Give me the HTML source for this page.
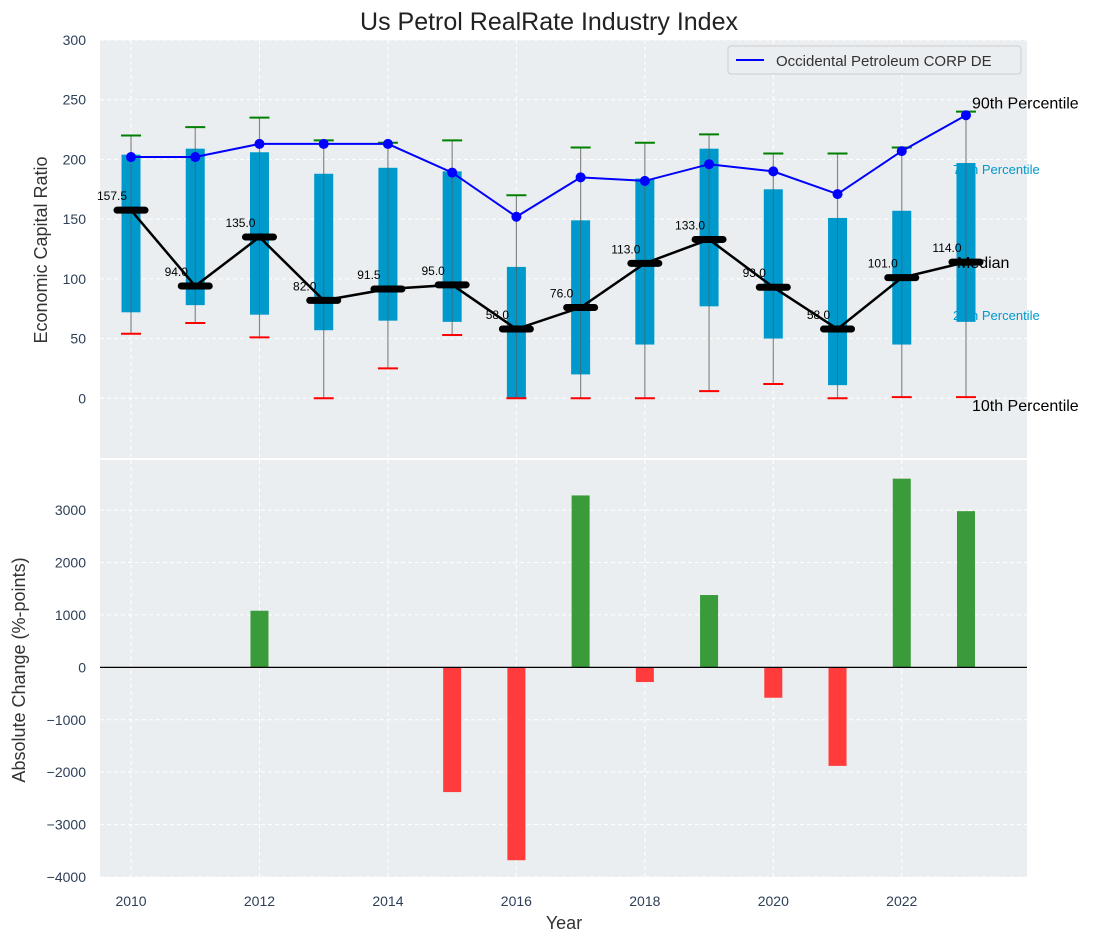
<!DOCTYPE html>
<html><head><meta charset="utf-8"><style>
body{margin:0;background:#fff;}
svg{font-family:"Liberation Sans","DejaVu Sans",sans-serif;}
</style></head><body>
<svg id="c" width="1107" height="942" viewBox="0 0 1107 942" xmlns="http://www.w3.org/2000/svg">
<text x="549" y="30" font-size="25" fill="#222" text-anchor="middle">Us Petrol RealRate Industry Index</text>
<rect x="100" y="40" width="927" height="418" fill="#eaeef0"/>
<rect x="100" y="460" width="927" height="417" fill="#eaeef0"/>
<g id="topG"></g><g id="botG"></g>
<text transform="translate(47,250) rotate(-90)" font-size="18" fill="#333" text-anchor="middle">Economic Capital Ratio</text>
<text transform="translate(25,670) rotate(-90)" font-size="18" fill="#333" text-anchor="middle">Absolute Change (%-points)</text>
<text x="564" y="929" font-size="18" fill="#333" text-anchor="middle">Year</text>
<g>
<rect x="728" y="46" width="293" height="28" fill="#eaeef0" stroke="#ccc" rx="3"/>
<line x1="736" y1="60" x2="764" y2="60" stroke="#0000ff" stroke-width="2"/>
<text x="776" y="66" font-size="15" fill="#333">Occidental Petroleum CORP DE</text>
</g>
</svg>
<script>
const years=[2010,2011,2012,2013,2014,2015,2016,2017,2018,2019,2020,2021,2022,2023];
const q10=[54,63,51,0,25,53,0,0,0,6,12,0,1,1];
const q25=[72,78,70,57,65,64,0,20,45,77,50,11,45,64];
const median=[157.5,94,135,82,91.5,95,58,76,113,133,93,58,101,114];
const q75=[204,209,206,188,193,190,110,149,184,209,175,151,157,197];
const q90=[220,227,235,216,214,216,170,210,214,221,205,205,210,240];
const oxy=[202,202,213,213,213,189,152,185,182,196,190,171,207,237];
const change=[0,0,1080,0,0,-2380,-3680,3280,-280,1380,-580,-1880,3600,2980];
const topTicks=[0,50,100,150,200,250,300];
const botTicks=[-4000,-3000,-2000,-1000,0,1000,2000,3000];
const xTicks=[2010,2012,2014,2016,2018,2020,2022];

const NS="http://www.w3.org/2000/svg";
const X=v=>100+(v-2009.517)*(927/(2023.95-2009.517));
const YT=v=>40+(300-v)*(418/350);
const YB=v=>460+(3956-v)*(417/7956);
const fmt=t=>t<0?'\u2212'+Math.abs(t):String(t);
function mk(p,t,a){const e=document.createElementNS(NS,t);for(const k in a)e.setAttribute(k,a[k]);p.appendChild(e);return e;}
const topG=document.getElementById('topG'),botG=document.getElementById('botG');
const grid={stroke:'#fff','stroke-dasharray':'4,3','stroke-width':1};
topTicks.forEach(t=>{const g=mk(topG,'line',Object.assign({x1:100,x2:1027,y1:YT(t),y2:YT(t)},grid));


const l=mk(topG,'text',{x:86,y:YT(t)+5,'font-size':14,fill:'#2e4057','text-anchor':'end'});l.textContent=fmt(t);

});
botTicks.forEach(t=>{const g=mk(botG,'line',Object.assign({x1:100,x2:1027,y1:YB(t),y2:YB(t)},grid));


const l=mk(botG,'text',{x:86,y:YB(t)+5,'font-size':14,fill:'#2e4057','text-anchor':'end'});l.textContent=fmt(t);

});
xTicks.forEach(t=>{mk(topG,'line',Object.assign({x1:X(t),x2:X(t),y1:40,y2:458},grid));
mk(botG,'line',Object.assign({x1:X(t),x2:X(t),y1:460,y2:877},grid));
const l=mk(botG,'text',{x:X(t),y:906,'font-size':14,fill:'#2e4057','text-anchor':'middle'});l.textContent=t;

});
const last=years.length-1,xl=X(years[last]);
[[q75[last],'75th Percentile',11],[q25[last],'25th Percentile',-2]].forEach(([v,s,dy])=>{const t=mk(topG,'text',{x:xl-13,y:YT(v)+dy,'font-size':13,fill:'#0099cc'});t.textContent=s;

});
years.forEach((y,i)=>{const x=X(y);
const w=mk(topG,'line',{x1:x,x2:x,y1:YT(q10[i]),y2:YT(q90[i]),stroke:'#888','stroke-width':1.2});


const b=mk(topG,'rect',{x:x-9.5,y:YT(q75[i]),width:19,height:YT(q25[i])-YT(q75[i]),fill:'#0099cc'});


mk(topG,'line',{x1:x,x2:x,y1:YT(q75[i]),y2:YT(q25[i]),stroke:'#555','stroke-width':1,opacity:0.6});
const c1=mk(topG,'line',{x1:x-10,x2:x+10,y1:YT(q90[i]),y2:YT(q90[i]),stroke:'#008000','stroke-width':2});


const c2=mk(topG,'line',{x1:x-10,x2:x+10,y1:YT(q10[i]),y2:YT(q10[i]),stroke:'#ff0000','stroke-width':2});

});
const mp=mk(topG,'polyline',{points:years.map((y,i)=>X(y)+','+YT(median[i])).join(' '),fill:'none',stroke:'#000','stroke-width':2.5});


years.forEach((y,i)=>{const x=X(y);
const m=mk(topG,'line',{x1:x-14,x2:x+14,y1:YT(median[i]),y2:YT(median[i]),stroke:'#000','stroke-width':7,'stroke-linecap':'round'});


const t=mk(topG,'text',{x:x-19,y:YT(median[i])-10,'font-size':12,fill:'#000','text-anchor':'middle'});t.textContent=median[i].toFixed(1);

});
const op=mk(topG,'polyline',{points:years.map((y,i)=>X(y)+','+YT(oxy[i])).join(' '),fill:'none',stroke:'#0000ff','stroke-width':2});


years.forEach((y,i)=>{const d=mk(topG,'circle',{cx:X(y),cy:YT(oxy[i]),r:5,fill:'#0000ff'});

});
[[q90[last],'90th Percentile',-3],[median[last],'Median',6],[q10[last],'10th Percentile',14]].forEach(([v,s,dy],k)=>{const t=mk(topG,'text',{x:k==1?xl-9:xl+6,y:YT(v)+dy,'font-size':16,fill:'#000'});t.textContent=s;

});
years.forEach((y,i)=>{if(!change[i])return;const x=X(y),v=change[i];
const b=mk(botG,'rect',{x:x-9,y:Math.min(YB(v),YB(0)),width:18,height:Math.abs(YB(v)-YB(0)),fill:v>0?'#3a9b3a':'#ff3b3b'});

});
const z=mk(botG,'line',{x1:100,x2:1027,y1:YB(0),y2:YB(0),stroke:'#000','stroke-width':1.2});


</script>
</body></html>
